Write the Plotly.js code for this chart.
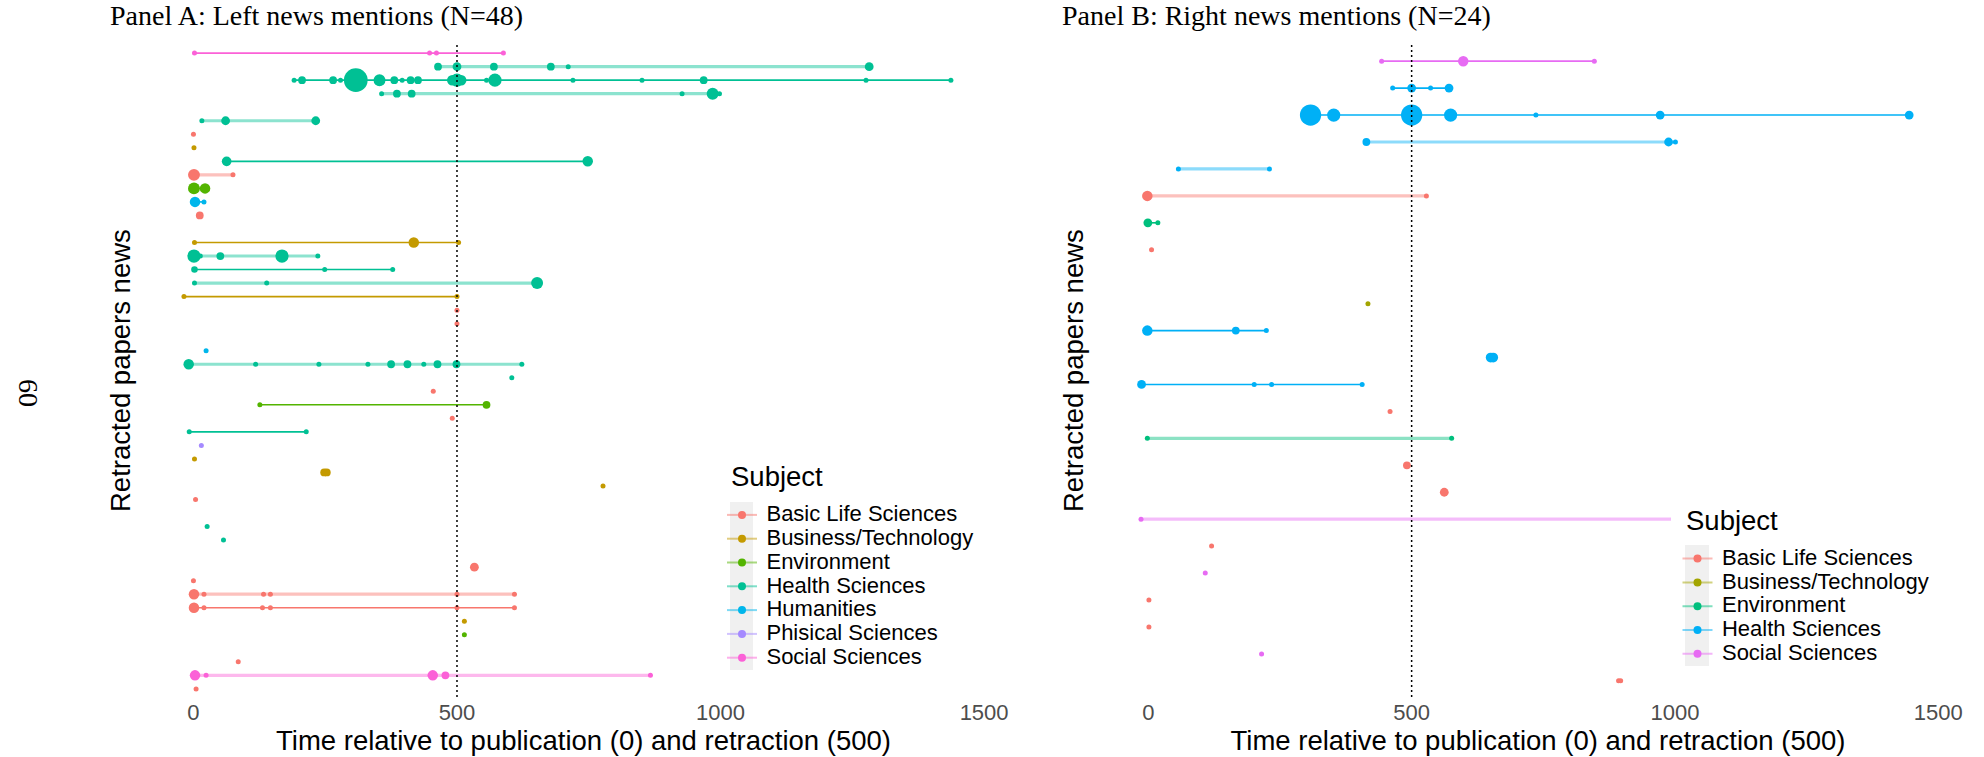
<!DOCTYPE html>
<html><head><meta charset="utf-8">
<script src="https://cdn.plot.ly/plotly-3.0.1.min.js"></script>
<style>html,body{margin:0;padding:0;background:#fff;}</style>
</head><body><div id="chart" style="width:1984px;height:757px;"></div>
<script>
// ---------------- DATA ----------------
const subjectsA = ['Basic Life Sciences','Business/Technology','Environment','Health Sciences','Humanities','Phisical Sciences','Social Sciences'];
const subjectsB = ['Basic Life Sciences','Business/Technology','Environment','Health Sciences','Social Sciences'];
const tickValues = [0, 500, 1000, 1500];
const retractionTime = 500;

// Panel A: one entry per retracted paper (row 1 = top), null = no mentions drawn
const rowSubjectA = [
 'Social Sciences','Health Sciences','Health Sciences','Health Sciences',null,
 'Health Sciences','Basic Life Sciences','Business/Technology','Health Sciences','Basic Life Sciences',
 'Environment','Humanities','Basic Life Sciences',null,'Business/Technology',
 'Health Sciences','Health Sciences','Health Sciences','Business/Technology','Basic Life Sciences',
 'Basic Life Sciences',null,'Humanities','Health Sciences','Health Sciences',
 'Basic Life Sciences','Environment','Basic Life Sciences','Health Sciences','Phisical Sciences',
 'Business/Technology','Business/Technology','Business/Technology','Basic Life Sciences',null,
 'Health Sciences','Health Sciences',null,'Basic Life Sciences','Basic Life Sciences',
 'Basic Life Sciences','Basic Life Sciences','Business/Technology','Environment',null,
 'Basic Life Sciences','Social Sciences','Basic Life Sciences'
];
const rowTimesA = [
 [2,448,461,588],
 [464,500,570,678,711,1282],
 [191,206,265,279,308,353,381,396,412,426,491,500,508,556,572,720,851,968,1276,1437],
 [357,386,414,927,985,998],
 [],
 [16,61,232],
 [0],
 [1],
 [63,748],
 [1,75],
 [1,22],
 [3,20],
 [12],
 [],
 [2,418,503],
 [1,13,51,168,236],
 [2,249,378],
 [2,139,652],
 [-18,500],
 [500],
 [500],
 [],
 [24],
 [-9,118,238,331,375,406,437,463,499,623],
 [604],
 [455],
 [126,556],
 [491],
 [-8,214],
 [15],
 [2],
 [248,253],
 [777],
 [4],
 [],
 [26],
 [57],
 [],
 [533],
 [0],
 [1,20,133,146,500,609],
 [1,20,131,146,500,609],
 [514],
 [514],
 [],
 [85],
 [3,24,454,478,867],
 [5]
];
const rowMentionsA = [
 [1,1,1,1],
 [3,4,3,3,1,4],
 [1,3,3,1,35,8,3,1,3,3,6,10,6,1,10,1,1,3,1,1],
 [1,3,3,1,8,1],
 [],
 [1,4,4],
 [1],
 [1],
 [5,6],
 [8,1],
 [8,6],
 [6,1],
 [3],
 [],
 [1,6,1],
 [10,1,3,10,1],
 [2,1,1],
 [1,1,8],
 [1,1],
 [1],
 [1],
 [],
 [1],
 [6,1,1,1,3,3,1,3,3,1],
 [1],
 [1],
 [1,3],
 [1],
 [1,1],
 [1],
 [1],
 [3,3],
 [1],
 [1],
 [],
 [1],
 [1],
 [],
 [4],
 [1],
 [6,1,1,1,1,1],
 [6,1,1,1,1,1],
 [1],
 [1],
 [],
 [1],
 [6,1,6,3,1],
 [1]
];
// 1 = single outlet series, 2 = several outlets series
const rowKindA = [1,2,1,2,0,2,0,0,1,2,1,1,0,0,1,2,1,2,1,0,0,0,0,2,0,0,1,0,1,0,0,1,0,0,0,0,0,0,0,0,2,1,0,0,0,0,2,0];

// Panel B
const rowSubjectB = [
 'Social Sciences','Health Sciences','Health Sciences','Health Sciences','Health Sciences',
 'Basic Life Sciences','Environment','Basic Life Sciences',null,'Business/Technology',
 'Health Sciences','Health Sciences','Health Sciences','Basic Life Sciences','Environment',
 'Basic Life Sciences','Basic Life Sciences','Social Sciences','Basic Life Sciences','Social Sciences',
 'Basic Life Sciences','Basic Life Sciences','Social Sciences','Basic Life Sciences'
];
const rowTimesB = [
 [443,598,847],
 [464,500,536,571],
 [308,352,500,574,736,972,1445],
 [414,988,1001],
 [57,230],
 [-2,528],
 [-1,18],
 [6],
 [],
 [417],
 [-2,166,224],
 [650,655],
 [-13,201,234,406],
 [459],
 [-2,576],
 [491],
 [562],
 [-14,1150],
 [120],
 [108],
 [1],
 [1],
 [215],
 [893,897]
];
const rowMentionsB = [
 [1,6,1],
 [1,4,1,4],
 [28,10,28,10,1,4,4],
 [3,4,1],
 [1,1],
 [6,1],
 [4,1],
 [1],
 [],
 [1],
 [6,3,1],
 [5,5],
 [4,1,1,1],
 [1],
 [1,1],
 [3],
 [4],
 [1,1],
 [1],
 [1],
 [1],
 [1],
 [1],
 [1,1]
];
const rowKindB = [1,1,1,2,2,2,1,0,0,0,1,1,1,0,2,0,0,2,0,0,0,0,0,1];

// ---------------- STYLE ----------------
const colorsA = {'Basic Life Sciences':'#F8766D','Business/Technology':'#C49A00','Environment':'#53B400','Health Sciences':'#00C094','Humanities':'#00B6EB','Phisical Sciences':'#A58AFF','Social Sciences':'#FB61D7'};
const colorsB = {'Basic Life Sciences':'#F8766D','Business/Technology':'#A3A500','Environment':'#00BF7D','Health Sciences':'#00B0F6','Social Sciences':'#E76BF3'};
const SANS = 'Liberation Sans, Arial, sans-serif';
const SERIF = 'Liberation Serif, Times New Roman, serif';
const W = 1984, H = 757, ML = 146, MR = 9, MT = 45, MB = 60;
const PW = W - ML - MR, PH = H - MT - MB;
const px = X => (X - ML) / PW;
const py = Y => (H - MB - Y) / PH;

function rgba(hex, a){
  const n = parseInt(hex.slice(1),16);
  return `rgba(${(n>>16)&255},${(n>>8)&255},${n&255},${a})`;
}
function msize(n){ return 3.8*Math.sqrt(n) + 1.2; }

function panelTraces(subjects, colors, rowSubject, rowTimes, rowMentions, rowKind, xa, ya, legendId){
  const traces = [];
  subjects.forEach(s => {
    [1,2].forEach(kind => {
      const x = [], y = [];
      rowSubject.forEach((rs, i) => {
        if (rs !== s || rowKind[i] !== kind || rowTimes[i].length < 2) return;
        const t = rowTimes[i];
        x.push(Math.min(...t), Math.max(...t), null);
        y.push(i+1, i+1, null);
      });
      if (!x.length) return;
      traces.push({type:'scatter', mode:'lines', x, y, xaxis:xa, yaxis:ya, showlegend:false, hoverinfo:'skip',
        line: kind === 1 ? {color: colors[s], width: 1.6} : {color: rgba(colors[s], 0.45), width: 3.2}});
    });
  });
  subjects.forEach(s => {
    const x = [], y = [], sz = [];
    rowSubject.forEach((rs, i) => {
      if (rs !== s) return;
      rowTimes[i].forEach((t, j) => { x.push(t); y.push(i+1); sz.push(msize(rowMentions[i][j])); });
    });
    if (!x.length) return;
    traces.push({type:'scatter', mode:'markers', x, y, xaxis:xa, yaxis:ya, showlegend:false,
      marker:{color: colors[s], size: sz, opacity:1, line:{width:0}}});
  });
  subjects.forEach(s => {
    traces.push({type:'scatter', mode:'lines+markers', x:[null], y:[null], xaxis:xa, yaxis:ya,
      name:'\u00A0<span style="font-size:22px">' + s + '</span>',
      legend: legendId, showlegend:true,
      line:{color: rgba(colors[s],0.5), width:2}, marker:{color: colors[s], size:8, opacity:1}});
  });
  return traces;
}

const data = [].concat(
  panelTraces(subjectsA, colorsA, rowSubjectA, rowTimesA, rowMentionsA, rowKindA, 'x', 'y', 'legend'),
  panelTraces(subjectsB, colorsB, rowSubjectB, rowTimesB, rowMentionsB, rowKindB, 'x2', 'y2', 'legend2')
);

const xaxisBase = {
  range:[-90, 1570], showgrid:false, zeroline:false, showline:false, ticks:'',
  tickvals: tickValues, ticktext: tickValues.map(String),
  tickfont:{family:SANS, size:22, color:'#4D4D4D'},
  title:{text:'Time relative to publication (0) and retraction (500)', font:{family:SANS, size:27.5, color:'#000'}, standoff:0}
};

const legendBase = {xanchor:'left', yanchor:'top', bgcolor:'rgba(0,0,0,0)', borderwidth:0,
  font:{family:SANS, size:16, color:'#000'}, itemclick:false};

const layout = {
  width:W, height:H, margin:{l:ML, r:MR, t:MT, b:MB},
  paper_bgcolor:'#fff', plot_bgcolor:'#fff',
  font:{family:SANS, color:'#000'},
  xaxis: Object.assign({}, xaxisBase, {domain:[0, px(1021)], anchor:'y'}),
  xaxis2: Object.assign({}, xaxisBase, {domain:[px(1101), 1], anchor:'y2'}),
  yaxis: {range:[48.6, 0.4], domain:[0,1], anchor:'x', showgrid:false, zeroline:false, showticklabels:false, ticks:''},
  yaxis2: {range:[24.6, 0.4], domain:[0,1], anchor:'x2', showgrid:false, zeroline:false, showticklabels:false, ticks:''},
  legend: Object.assign({}, legendBase, {x:px(722), y:py(498)}),
  legend2: Object.assign({}, legendBase, {x:px(1677.5), y:py(541.7)}),
  shapes: [
    {type:'line', xref:'x', yref:'paper', x0:retractionTime, x1:retractionTime, y0:0, y1:1, layer:'above', line:{color:'#000', width:1.5, dash:'2px,3px'}},
    {type:'line', xref:'x2', yref:'paper', x0:retractionTime, x1:retractionTime, y0:0, y1:1, layer:'above', line:{color:'#000', width:1.5, dash:'2px,3px'}},
    {type:'rect', xref:'paper', yref:'paper', x0:px(716), x1:px(1020), y0:py(675), y1:py(455), fillcolor:'#fff', line:{width:0}, layer:'above'},
    {type:'rect', xref:'paper', yref:'paper', x0:px(1671), x1:px(1975), y0:py(670), y1:py(502), fillcolor:'#fff', line:{width:0}, layer:'above'},
    {type:'rect', xref:'paper', yref:'paper', x0:px(730), x1:px(753), y0:py(670), y1:py(502), fillcolor:'#F0F0F0', line:{width:0}, layer:'above'},
    {type:'rect', xref:'paper', yref:'paper', x0:px(1685), x1:px(1709), y0:py(666), y1:py(545), fillcolor:'#F0F0F0', line:{width:0}, layer:'above'}
  ],
  annotations: [
    {text:'Panel A: Left news mentions (N=48)', xref:'paper', yref:'paper', x:px(108), y:py(15.5), xanchor:'left', yanchor:'middle', showarrow:false, font:{family:SERIF, size:28, color:'#000'}},
    {text:'Panel B: Right news mentions (N=24)', xref:'paper', yref:'paper', x:px(1060), y:py(15.5), xanchor:'left', yanchor:'middle', showarrow:false, font:{family:SERIF, size:28, color:'#000'}},
    {text:'Retracted papers news', xref:'paper', yref:'paper', x:px(120), y:0.5, xanchor:'center', yanchor:'middle', textangle:-90, showarrow:false, font:{family:SANS, size:27.5, color:'#000'}},
    {text:'Retracted papers news', xref:'paper', yref:'paper', x:px(1073), y:0.5, xanchor:'center', yanchor:'middle', textangle:-90, showarrow:false, font:{family:SANS, size:27.5, color:'#000'}},
    {text:'60', xref:'paper', yref:'paper', x:px(29), y:py(393), xanchor:'center', yanchor:'middle', textangle:90, showarrow:false, font:{family:SERIF, size:28, color:'#000'}},
    {text:'Subject', xref:'paper', yref:'paper', x:px(729), y:py(476.7), xanchor:'left', yanchor:'middle', showarrow:false, font:{family:SANS, size:27.5, color:'#000'}},
    {text:'Subject', xref:'paper', yref:'paper', x:px(1684), y:py(520.7), xanchor:'left', yanchor:'middle', showarrow:false, font:{family:SANS, size:27.5, color:'#000'}}
  ]
};

Plotly.newPlot('chart', data, layout, {displayModeBar:false, staticPlot:true});
</script>
</body></html>
